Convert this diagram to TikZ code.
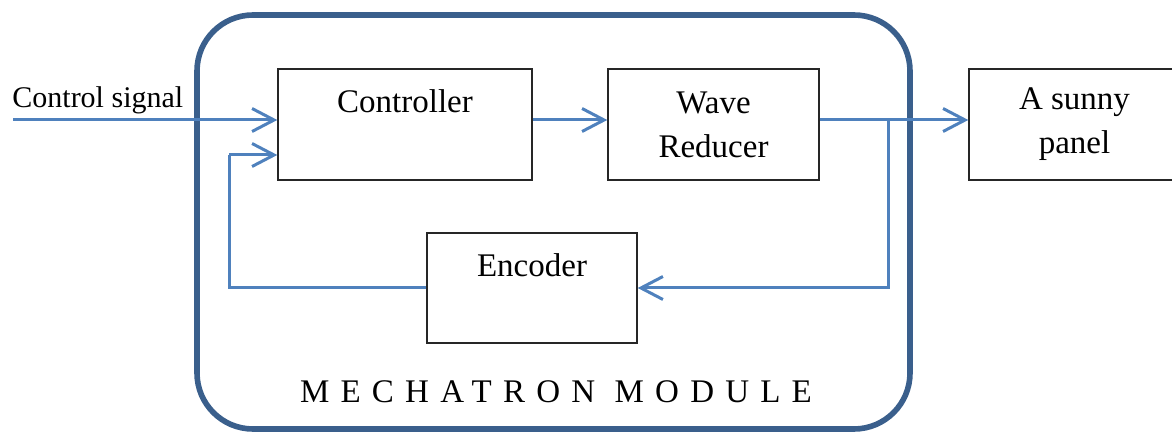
\documentclass[tikz,border=0pt]{standalone}
\usepackage{fontspec}
\setmainfont{Liberation Serif}
\usetikzlibrary{arrows.meta}
\definecolor{flowblue}{RGB}{79,129,189}
\definecolor{moduleblue}{RGB}{58,95,140}

\begin{document}
\begin{tikzpicture}[x=0.5pt,y=-0.5pt,
  block/.style={draw=black!85,line width=0.7pt,inner sep=3pt,align=center,
    minimum height=55.5pt,font=\fontsize{16.5}{22}\selectfont},
  toptext/.style={text height=11.5pt,text depth=23pt},
  flow/.style={draw=flowblue,line width=1.5pt,-{Straight Barb[length=11pt,width=11.5pt]}},
  wire/.style={draw=flowblue,line width=1.5pt}]
  \useasboundingbox (0,0) rectangle (1172,432);
  \clip (0,0) rectangle (1172,432);
  \draw[moduleblue,line width=2.8pt,rounded corners=28pt] (197,15) rectangle (910,429);
  \node[font=\fontsize{16.5}{18}\selectfont\addfontfeature{LetterSpace=34}] (module) at (556,392) {MECHATRON MODULE};
  \node[block,toptext,minimum width=127pt] (ctrl) at (405,124.5) {Controller};
  \node[block,minimum width=105.5pt] (wave) at (713.5,124.5) {Wave\\Reducer};
  \node[block,minimum width=105.5pt] (panel) at (1074.5,124.5) {A sunny\\panel};
  \node[block,toptext,minimum width=105pt,minimum height=55pt] (enc) at (532,288) {Encoder};
  \node[anchor=base west,inner sep=0pt,font=\fontsize{15}{18}\selectfont] (sigtext) at (12,108) {Control signal};
  \coordinate (sig) at (13,120);
  \coordinate (tap) at (888,120);
  \coordinate (ret) at (229,155);
  \draw[flow] (sig) -- (sig -| ctrl.west);
  \draw[flow] (sig -| ctrl.east) -- (sig -| wave.west);
  \draw[flow] (sig -| wave.east) -- (sig -| panel.west);
  \draw[flow] (tap) |- (enc.east);
  \draw[wire] (enc.west) -| (ret);
  \draw[flow] (ret) -- (ret -| ctrl.west);
\end{tikzpicture}
\end{document}
